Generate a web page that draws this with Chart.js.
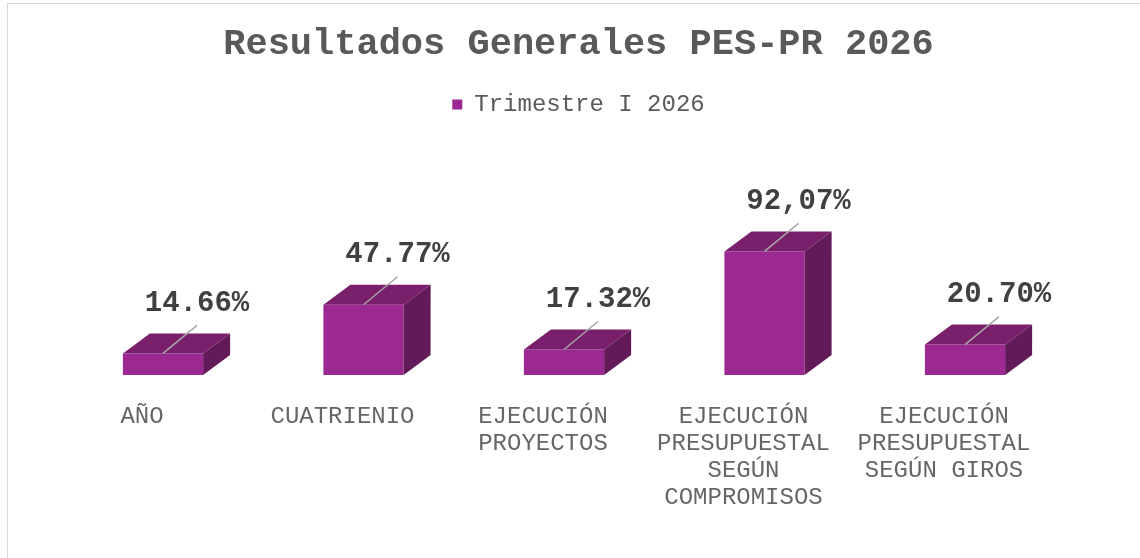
<!DOCTYPE html>
<html><head><meta charset="utf-8">
<script src="https://cdn.jsdelivr.net/npm/chart.js@4/dist/chart.umd.min.js"></script>
<style>
html,body{margin:0;padding:0;background:#fff;overflow:hidden;width:1140px;height:558px;}
#frame{position:absolute;left:7px;top:3px;width:1141px;height:558px;border:1px solid #d9d9d9;}
canvas{display:block;}
</style></head><body>
<div id="frame"><canvas id="c" width="1141" height="558"></canvas></div>
<script>
// ---- data ----
const chartTitle = "Resultados Generales PES-PR 2026";
const seriesName = "Trimestre I 2026";
const categories = ["AÑO", ["CUATRIENIO"], ["EJECUCIÓN","PROYECTOS"], ["EJECUCIÓN","PRESUPUESTAL","SEGÚN","COMPROMISOS"], ["EJECUCIÓN","PRESUPUESTAL","SEGÚN GIROS"]];
const values = [14.66, 47.77, 17.32, 84.0, 20.70];
const valueLabels = ["14.66%", "47.77%", "17.32%", "92,07%", "20.70%"];

// ---- style ----
const FONT = "'Liberation Mono', 'Courier New', monospace";
const FRONT = "#9c2891", TOP = "#7a1f6c", SIDE = "#621a58";
const DX = 27, DY = 20, SHIFT = 21;

const box3d = {
  id: 'box3d',
  beforeDatasetsDraw(chart) { chart.ctx.save(); chart.ctx.translate(SHIFT, 0); },
  afterDatasetsDraw(chart) {
    const ctx = chart.ctx;
    const meta = chart.getDatasetMeta(0);
    meta.data.forEach((bar, i) => {
      const p = bar.getProps(['x', 'y', 'base', 'width'], true);
      const L = p.x - p.width / 2, R = p.x + p.width / 2, T = p.y, B = p.base;
      ctx.fillStyle = TOP;
      ctx.beginPath(); ctx.moveTo(L, T); ctx.lineTo(L + DX, T - DY); ctx.lineTo(R + DX, T - DY); ctx.lineTo(R, T); ctx.closePath(); ctx.fill();
      ctx.fillStyle = SIDE;
      ctx.beginPath(); ctx.moveTo(R, T); ctx.lineTo(R + DX, T - DY); ctx.lineTo(R + DX, B - DY); ctx.lineTo(R, B); ctx.closePath(); ctx.fill();
      // leader line
      ctx.strokeStyle = "#a6a6a6"; ctx.lineWidth = 1.5;
      ctx.beginPath(); ctx.moveTo(p.x, T); ctx.lineTo(p.x + 34, T - 28); ctx.stroke();
      // value label
      ctx.fillStyle = "#404040";
      ctx.font = "bold 29px " + FONT;
      ctx.textAlign = 'center'; ctx.textBaseline = 'middle';
      ctx.fillText(valueLabels[i], p.x + 34, T - 50);
    });
    ctx.restore();
  }
};

new Chart(document.getElementById('c'), {
  type: 'bar',
  data: {
    labels: categories,
    datasets: [{
      label: seriesName,
      data: values,
      backgroundColor: FRONT,
      borderWidth: 0,
      categoryPercentage: 1,
      barPercentage: 0.4
    }]
  },
  options: {
    responsive: false,
    animation: false,
    layout: { padding: 0 },
    plugins: {
      title: {
        display: true, text: chartTitle, color: "#595959",
        font: { family: FONT, size: 37, weight: 'bold' },
        padding: { top: 18, bottom: 16 }
      },
      legend: {
        display: true, position: 'top',
        labels: {
          color: "#595959", boxWidth: 10, boxHeight: 10, padding: 10,
          font: { family: FONT, size: 24 }
        }
      },
      tooltip: { enabled: false }
    },
    scales: {
      x: {
        grid: { display: false, drawTicks: false },
        border: { display: false },
        ticks: {
          color: "#666666", autoSkip: false, maxRotation: 0, minRotation: 0, padding: 28,
          font: { family: FONT, size: 24, lineHeight: 1.125 }
        },
        afterFit(s) { s.height = 187; }
      },
      y: {
        min: 0, max: 169,
        grid: { display: false, drawTicks: false },
        border: { display: false },
        ticks: { display: false },
        afterFit(s) { s.width = 33.75; }
      },
      y2: {
        position: 'right', type: 'linear', min: 0, max: 1,
        grid: { display: false, drawTicks: false },
        border: { display: false },
        ticks: { display: false },
        afterFit(s) { s.width = 104.75; }
      }
    }
  },
  plugins: [box3d]
});
</script>
</body></html>
